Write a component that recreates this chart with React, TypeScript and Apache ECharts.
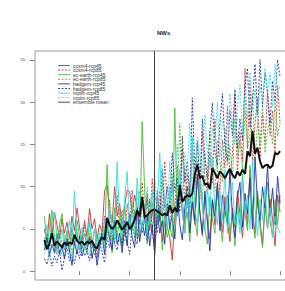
import React, { useEffect, useRef } from "react";
import * as echarts from "echarts";

const years: number[] = Array.from({ length: 95 }, (_, i) => 2006 + i);

const ccsm4Rcp45 = [
  5.0, 3.5, 6.8, 4.2, 7.0, 5.5, 3.8, 6.2, 4.5, 5.8,
  3.9, 6.5, 4.8, 7.5, 5.2, 3.6, 6.0, 4.1, 7.4, 5.0,
  6.2, 3.8, 5.5, 4.6, 9.5, 10.2, 7.0, 5.8, 10.0, 6.5,
  8.0, 5.2, 7.8, 9.6, 9.4, 6.8, 9.0, 7.5, 5.6, 8.2,
  6.0, 9.2, 4.8, 7.2, 5.0, 8.8, 6.4, 3.5, 7.0, 5.2,
  4.0, 1.3, 6.5, 8.5, 10.0, 7.0, 4.5, 9.8, 6.2, 8.0,
  5.5, 11.5, 7.0, 4.2, 9.0, 6.0, 3.8, 8.4, 5.5, 10.2,
  7.2, 4.6, 8.8, 6.0, 3.5, 7.5, 5.2, 9.5, 6.8, 4.0,
  8.0, 5.5, 12.0, 7.0, 4.5, 9.2, 6.0, 3.2, 7.8, 5.0,
  8.5, 6.2, 3.0, 9.0, 7.0,
];
const ccsm4Rcp85 = [
  3.0, 4.5, 2.2, 5.0, 3.2, 2.0, 4.8, 3.5, 2.5, 4.0,
  2.8, 5.2, 3.0, 4.5, 2.2, 3.8, 5.5, 2.6, 4.2, 3.0,
  5.0, 1.8, 4.0, 3.2, 6.5, 4.5, 8.5, 3.8, 6.0, 9.0,
  5.0, 7.2, 4.2, 8.0, 5.5, 9.6, 6.2, 4.0, 7.5, 10.5,
  6.0, 8.5, 5.2, 11.0, 7.2, 4.5, 9.5, 6.5, 13.0, 8.0,
  5.5, 10.5, 7.0, 12.5, 9.0, 14.5, 8.2, 11.5, 7.5, 15.0,
  10.2, 13.0, 8.5, 16.5, 11.0, 9.2, 14.0, 10.5, 18.0, 12.0,
  9.5, 15.5, 12.2, 19.5, 10.8, 14.0, 21.0, 11.5, 16.5, 13.0,
  24.0, 14.5, 22.5, 12.5, 17.5, 20.5, 13.5, 18.5, 15.0, 21.5,
  16.0, 19.0, 14.0, 22.0, 17.5,
];
const ecEarthRcp45 = [
  6.5, 3.0, 5.2, 7.2, 4.0, 2.5, 5.5, 6.8, 3.5, 4.8,
  2.2, 5.0, 3.8, 6.0, 4.2, 2.8, 4.5, 3.0, 5.8, 3.6,
  2.5, 4.2, 3.2, 5.0, 3.5, 12.6, 5.5, 2.2, 7.5, 4.0,
  6.2, 3.0, 8.0, 4.5, 6.5, 5.0, 7.2, 3.8, 4.5, 17.7,
  9.5, 3.2, 6.5, 8.2, 4.8, 5.5, 7.8, 2.5, 6.0, 4.0,
  5.2, 4.0, 19.3, 6.5, 8.0, 8.5, 5.5, 7.0, 3.5, 9.2,
  6.0, 4.2, 11.0, 7.5, 5.0, 3.2, 8.8, 6.2, 4.5, 10.0,
  5.8, 3.5, 7.5, 9.0, 4.2, 6.8, 3.0, 8.2, 5.5, 11.5,
  7.0, 4.8, 12.5, 6.5, 3.9, 9.5, 5.2, 2.8, 7.8, 10.5,
  6.0, 4.0, 8.5, 5.5, 9.0,
];
const ecEarthRcp85 = [
  4.0, 2.5, 3.5, 5.5, 2.0, 3.2, 4.5, 2.4, 3.8, 2.8,
  4.2, 2.2, 3.5, 5.0, 2.6, 4.0, 3.0, 2.0, 4.6, 3.2,
  2.4, 3.8, 2.8, 4.5, 3.0, 5.5, 4.0, 6.8, 3.2, 5.0,
  7.5, 4.2, 3.5, 6.0, 4.8, 8.2, 5.0, 7.0, 9.5, 6.0,
  5.5, 8.8, 6.2, 4.5, 9.0, 7.5, 5.8, 10.5, 6.5, 8.0,
  7.0, 11.5, 6.0, 9.5, 17.5, 8.0, 12.5, 7.5, 10.0, 13.8,
  9.0, 15.0, 11.5, 8.5, 14.0, 10.2, 16.5, 12.0, 9.5, 15.5,
  13.0, 10.5, 17.0, 12.5, 14.8, 11.0, 18.0, 13.5, 15.5, 12.0,
  19.0, 14.5, 16.0, 21.0, 13.0, 17.5, 15.0, 19.5, 14.0, 16.5,
  18.0, 15.0, 20.0, 16.0, 17.5,
];
const hadgemRcp45 = [
  2.5, 4.0, 1.8, 3.2, 2.2, 4.5, 2.0, 3.0, 1.5, 3.8,
  2.4, 0.7, 3.5, 2.0, 4.2, 1.8, 3.0, 2.5, 4.0, 1.5,
  3.2, 0.7, 2.8, 4.5, 2.0, 5.5, 3.8, 2.5, 6.0, 3.2,
  4.5, 2.2, 5.2, 3.0, 6.8, 4.0, 2.8, 7.5, 3.5, 5.8,
  4.2, 6.5, 3.0, 5.5, 1.9, 7.2, 4.5, 6.0, 3.2, 8.0,
  5.0, 6.8, 3.8, 9.0, 5.5, 3.7, 7.5, 10.0, 4.5, 8.2,
  6.0, 11.5, 7.0, 4.5, 9.5, 5.8, 2.4, 8.5, 6.5, 10.5,
  4.8, 9.0, 7.2, 5.5, 12.0, 6.5, 4.0, 8.8, 10.5, 5.2,
  9.2, 6.8, 11.0, 5.0, 13.5, 8.0, 6.0, 10.0, 7.5, 12.5,
  6.5, 9.8, 5.5, 11.2, 8.0,
];
const hadgemRcp85 = [
  1.5, 0.8, 2.2, 0.6, 1.8, 1.0, 2.5, 0.1, 1.6, 2.8,
  1.2, 2.0, 0.9, 2.6, 1.5, 3.0, 1.8, 2.4, 1.2, 3.2,
  2.0, 1.5, 3.5, 2.2, 1.0, 4.0, 2.8, 5.0, 3.2, 2.5,
  4.5, 3.0, 6.0, 3.5, 2.0, 5.5, 4.0, 3.2, 7.0, 4.5,
  6.5, 3.5, 8.5, 5.0, 2.2, 9.5, 6.0, 12.0, 7.5, 10.0,
  8.0, 14.0, 9.5, 11.0, 7.0, 16.0, 10.5, 13.0, 9.0, 20.5,
  12.0, 15.5, 10.0, 18.0, 13.5, 11.0, 16.5, 19.9, 14.0, 12.5,
  17.5, 21.0, 15.0, 13.0, 19.0, 16.0, 21.5, 14.5, 18.0, 15.5,
  22.0, 24.0, 17.0, 20.0, 24.5, 18.5, 25.0, 19.5, 23.5, 21.0,
  17.5, 22.5, 20.0, 25.0, 23.0,
];
const mpimRcp45 = [
  3.0, 5.5, 2.5, 6.5, 7.0, 4.0, 3.2, 5.0, 2.8, 4.5,
  6.0, 3.5, 9.5, 4.2, 3.0, 5.2, 2.5, 4.0, 6.2, 3.4,
  5.0, 2.8, 4.5, 3.5, 6.0, 4.5, 7.5, 5.5, 3.8, 12.9,
  6.0, 4.5, 8.5, 11.8, 5.0, 7.0, 4.2, 11.0, 6.5, 5.0,
  8.0, 4.5, 6.8, 9.5, 5.5, 7.5, 14.0, 6.0, 8.8, 4.8,
  10.0, 6.5, 5.0, 8.5, 12.0, 7.0, 4.5, 9.5, 6.0, 15.9,
  7.5, 5.2, 11.5, 8.0, 4.8, 10.0, 6.5, 13.5, 7.2, 5.5,
  9.5, 6.0, 12.0, 4.5, 8.0, 10.5, 5.5, 7.0, 4.5, 11.0,
  6.5, 9.0, 5.0, 13.0, 7.5, 4.2, 8.5, 6.0, 10.0, 5.0,
  7.5, 4.0, 6.5, 5.2, 4.5,
];
const mpimRcp85 = [
  2.0, 3.5, 1.5, 2.8, 4.0, 2.2, 3.2, 1.8, 3.8, 2.5,
  3.0, 1.6, 4.2, 2.4, 3.5, 2.0, 4.5, 2.8, 1.8, 3.6,
  2.6, 4.8, 3.0, 2.2, 5.2, 3.5, 6.5, 4.0, 7.0, 4.8,
  3.5, 6.0, 8.0, 5.0, 4.2, 7.5, 5.5, 9.5, 6.2, 8.5,
  7.0, 10.0, 5.5, 8.0, 11.5, 6.5, 9.0, 12.5, 8.5, 7.0,
  13.0, 9.0, 11.5, 15.0, 10.0, 8.5, 14.0, 12.0, 17.5, 11.0,
  9.5, 16.0, 13.5, 11.5, 18.5, 14.0, 12.0, 17.0, 15.0, 20.0,
  13.5, 18.0, 16.5, 14.0, 21.0, 17.5, 15.0, 19.5, 22.0, 16.5,
  20.5, 18.0, 23.5, 19.0, 21.5, 17.5, 22.0, 20.0, 24.0, 21.0,
  23.5, 19.5, 24.5, 21.0, 22.0,
];
const ensembleMean = [
  3.7, 2.6, 3.3, 4.5, 3.0, 3.5, 3.2, 2.8, 3.4, 3.1,
  3.4, 3.2, 4.3, 3.6, 3.3, 3.5, 3.1, 3.5, 3.3, 3.6,
  2.9, 2.7, 3.5, 4.0, 3.7, 6.3, 5.4, 5.0, 5.3, 6.0,
  5.5, 4.9, 5.3, 5.8, 5.0, 5.4, 6.1, 7.2, 6.5, 8.8,
  6.4, 6.6, 7.0, 7.2, 7.3, 7.1, 6.9, 6.6, 6.8, 6.6,
  7.8, 6.9, 7.5, 7.0, 10.2, 8.2, 8.7, 9.0, 8.8, 9.2,
  11.5, 12.6, 11.0, 11.3, 10.2, 10.4, 9.7, 12.2, 11.6, 11.0,
  11.8, 11.5, 11.0, 11.6, 12.1, 11.4, 11.0, 11.8, 11.3, 12.0,
  11.5, 14.2, 13.6, 16.6, 13.9, 14.6, 13.0, 12.2, 12.5, 12.6,
  12.2, 12.5, 14.0, 13.8, 14.2,
];

const yTicks = [0, 5, 10, 15, 20, 25];
const xTicks = [2020, 2040, 2060, 2080, 2100];
const splitYear = 2050;
const title = "NWs";

const RED = "#cc3333";
const GREEN = "#44bb33";
const BLUE = "#2233aa";
const CYAN = "#33dddd";

export default function App() {
  const ref = useRef<HTMLDivElement>(null);
  useEffect(() => {
    if (!ref.current) return;
    const chart = echarts.init(ref.current, null, { renderer: "svg" });
    const DASH = [2, 1.5];
    const mk = (name: string, vals: number[], color: string, dashed: boolean, width = 0.9) => ({
      name,
      type: "line",
      data: years.map((y, i) => [y, vals[i]]),
      symbol: "none",
      lineStyle: { color, width, type: dashed ? DASH : "solid" },
      itemStyle: { color },
      silent: true,
    });
    const defs: [string, number[], string, boolean, number][] = [
      ["ccsm4-rcp45", ccsm4Rcp45, RED, false, 0.9],
      ["ccsm4-rcp85", ccsm4Rcp85, RED, true, 0.9],
      ["ec-earth-rcp45", ecEarthRcp45, GREEN, false, 0.9],
      ["ec-earth-rcp85", ecEarthRcp85, GREEN, true, 0.9],
      ["hadgem-rcp45", hadgemRcp45, BLUE, false, 0.9],
      ["hadgem-rcp85", hadgemRcp85, BLUE, true, 0.9],
      ["mpim-rcp45", mpimRcp45, CYAN, false, 0.9],
      ["mpim-rcp85", mpimRcp85, CYAN, true, 0.9],
      ["ensemble mean", ensembleMean, "#111111", false, 2],
    ];
    const series: any[] = defs.map((d) => mk(d[0], d[1], d[2], d[3], d[4]));
    series[series.length - 1].markLine = {
      silent: true,
      symbol: ["none", "none"],
      label: { show: false },
      lineStyle: { color: "#444", width: 1, type: "solid" },
      data: [{ xAxis: splitYear }],
    };
    const legendEls: any[] = [];
    defs.forEach((d, i) => {
      const y = 65.5 + i * 4.6;
      legendEls.push({
        type: "line",
        shape: { x1: 58, y1: y, x2: 70, y2: y },
        style: {
          stroke: i === defs.length - 1 ? "#888" : d[2],
          lineWidth: i === defs.length - 1 ? 1.5 : 0.9,
          lineDash: d[3] ? DASH : null,
        },
        silent: true,
      });
      legendEls.push({
        type: "text",
        x: 73,
        y,
        style: {
          text: d[0],
          fontSize: 5,
          fill: "#333",
          fontFamily: "Liberation Sans",
          verticalAlign: "middle",
        },
        silent: true,
      });
    });
    chart.setOption({
      animation: false,
      title: {
        text: title,
        left: 157,
        top: 30,
        padding: 0,
        textStyle: { fontSize: 6, fontWeight: "bold", color: "#222", fontFamily: "Liberation Sans" },
      },
      graphic: legendEls,
      grid: {
        left: 35,
        top: 51,
        width: 254.5,
        height: 229,
        show: true,
        borderColor: "#999",
        borderWidth: 1,
        backgroundColor: "transparent",
      },
      xAxis: {
        type: "value",
        min: 2002.24,
        max: 2103.76,
        axisLine: { show: false },
        splitLine: { show: false },
        axisTick: { show: true, customValues: xTicks, length: 4, lineStyle: { color: "#888" } },
        axisLabel: { show: false, customValues: xTicks },
      },
      yAxis: {
        type: "value",
        min: -1.04,
        max: 26.04,
        axisLine: { show: false },
        splitLine: { show: false },
        axisTick: { show: true, customValues: yTicks, length: 5, lineStyle: { color: "#888" } },
        axisLabel: {
          customValues: yTicks,
          fontSize: 4,
          margin: 10,
          color: "#333",
          fontFamily: "Liberation Sans",
        },
      },
      series,
    });
    return () => chart.dispose();
  }, []);
  return (
    <div
      style={{ position: "fixed", left: 0, top: 0, width: 285, height: 291, overflow: "hidden", background: "#fff" }}
    >
      <div ref={ref} style={{ width: 300, height: 291 }} />
    </div>
  );
}
